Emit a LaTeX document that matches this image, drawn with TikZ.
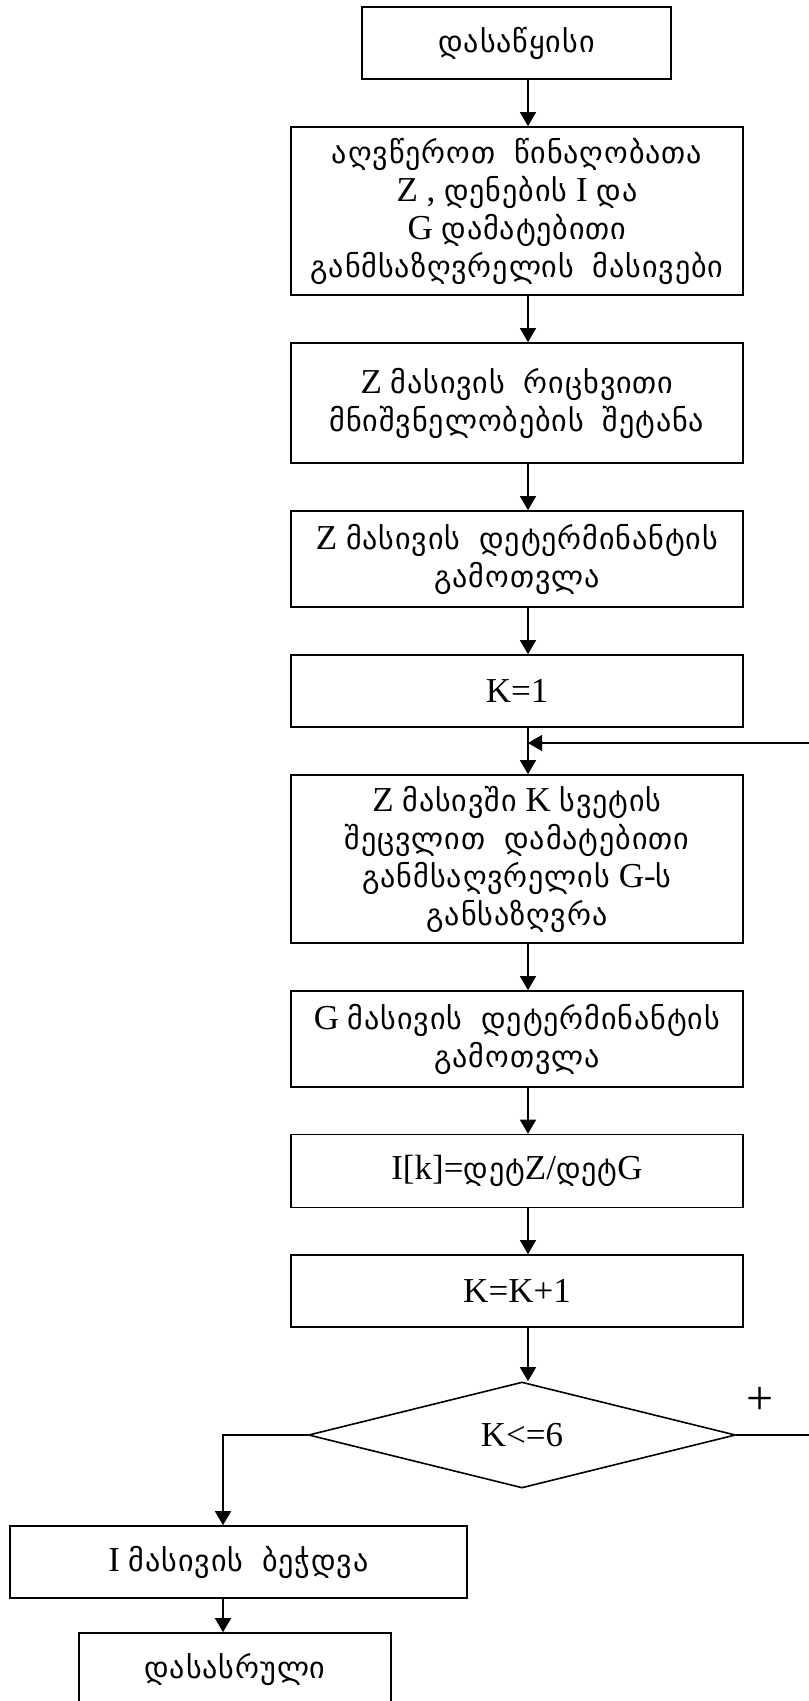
\documentclass[tikz,border=0pt]{standalone}
\usepackage{fontspec}
\setmainfont{Liberation Serif}
\newfontfamily\geofont[Scale=0.86,LetterSpace=3,WordSpace=1.8]{DejaVu Sans}
\newcommand{\kat}[1]{{\geofont #1}}
\usetikzlibrary{shapes.geometric,arrows.meta}

\begin{document}
\begin{tikzpicture}[x=0.5pt, y=-0.5pt,
    box/.style={draw, line width=0.8pt, align=center, inner sep=0pt,
        font=\fontsize{17.5}{19}\selectfont},
    cond/.style={draw, diamond, line width=0.8pt, inner sep=0pt,
        font=\fontsize{17.5}{19}\selectfont},
    arr/.style={-{Triangle[length=7pt,width=8pt]}, line width=0.65pt},
    lbl/.style={font=\fontsize{24}{26}\selectfont}]

\useasboundingbox (0,0) rectangle (808,1701);

% 连线的 x 坐标
\coordinate (mx) at (528,0);
\coordinate (lx) at (223,0);
\coordinate (rx) at (830,0);
\coordinate (merge) at (528,743);

% 开始
\node[box, minimum width=154.5pt, minimum height=36pt] (start) at (516.5,43) {\kat{დასაწყისი}};

% 描述数组
\node[box, minimum width=226pt, minimum height=84pt] (decl) at (517,211)
    {\kat{აღვწეროთ წინაღობათა}\\ Z , \kat{დენების} I \kat{და}\\ G \kat{დამატებითი}\\ \kat{განმსაზღვრელის მასივები}};

% 输入 Z
\node[box, minimum width=226pt, minimum height=60pt] (input) at (517,403)
    {Z \kat{მასივის რიცხვითი}\\ \kat{მნიშვნელობების შეტანა}};

% det Z
\node[box, minimum width=226pt, minimum height=48pt] (detz) at (517,559)
    {Z \kat{მასივის დეტერმინანტის}\\ \kat{გამოთვლა}};

% K=1
\node[box, minimum width=226pt, minimum height=36pt] (setk) at (517,691) {K=1};

% 替换第 K 列
\node[box, minimum width=226pt, minimum height=84pt] (repl) at (517,859)
    {Z \kat{მასივში} K \kat{სვეტის}\\ \kat{შეცვლით დამატებითი}\\ \kat{განმსაღვრელის} G-\kat{ს}\\ \kat{განსაზღვრა}};

% det G
\node[box, minimum width=226pt, minimum height=48pt] (detg) at (517,1039)
    {G \kat{მასივის დეტერმინანტის}\\ \kat{გამოთვლა}};

% I[k]
\node[box, minimum width=226pt, minimum height=36.5pt] (calc) at (517,1171)
    {I[k]=\kat{დეტ}Z/\kat{დეტ}G};

% K=K+1
\node[box, minimum width=226pt, minimum height=36pt] (inck) at (517,1291) {K=K+1};

% 判断
\node[cond, minimum width=213.5pt, minimum height=53pt] (check) at (522,1435) {K<=6};
\node[lbl] (plus) at (760,1401) {+};

% 打印 I
\node[box, minimum width=228.5pt, minimum height=36pt] (print) at (238.5,1562)
    {I \kat{მასივის ბეჭდვა}};

% 结束
\node[box, minimum width=156pt, minimum height=36.5pt] (finish) at (235,1669.5) {\kat{დასასრული}};

% 主线
\draw[arr] (start.south -| mx) -- (decl.north -| mx);
\draw[arr] (decl.south -| mx) -- (input.north -| mx);
\draw[arr] (input.south -| mx) -- (detz.north -| mx);
\draw[arr] (detz.south -| mx) -- (setk.north -| mx);
\draw[arr] (setk.south -| mx) -- (repl.north -| mx);
\draw[arr] (repl.south -| mx) -- (detg.north -| mx);
\draw[arr] (detg.south -| mx) -- (calc.north -| mx);
\draw[arr] (calc.south -| mx) -- (inck.north -| mx);
\draw[arr] (inck.south -| mx) -- (check.north -| mx);

% 循环
\draw[arr] (check.east) -- (check.east -| rx) |- (merge);

% 左分支
\draw[arr] (check.west) -| (print.north -| lx);
\draw[arr] (print.south -| lx) -- (finish.north -| lx);

\end{tikzpicture}
\end{document}
